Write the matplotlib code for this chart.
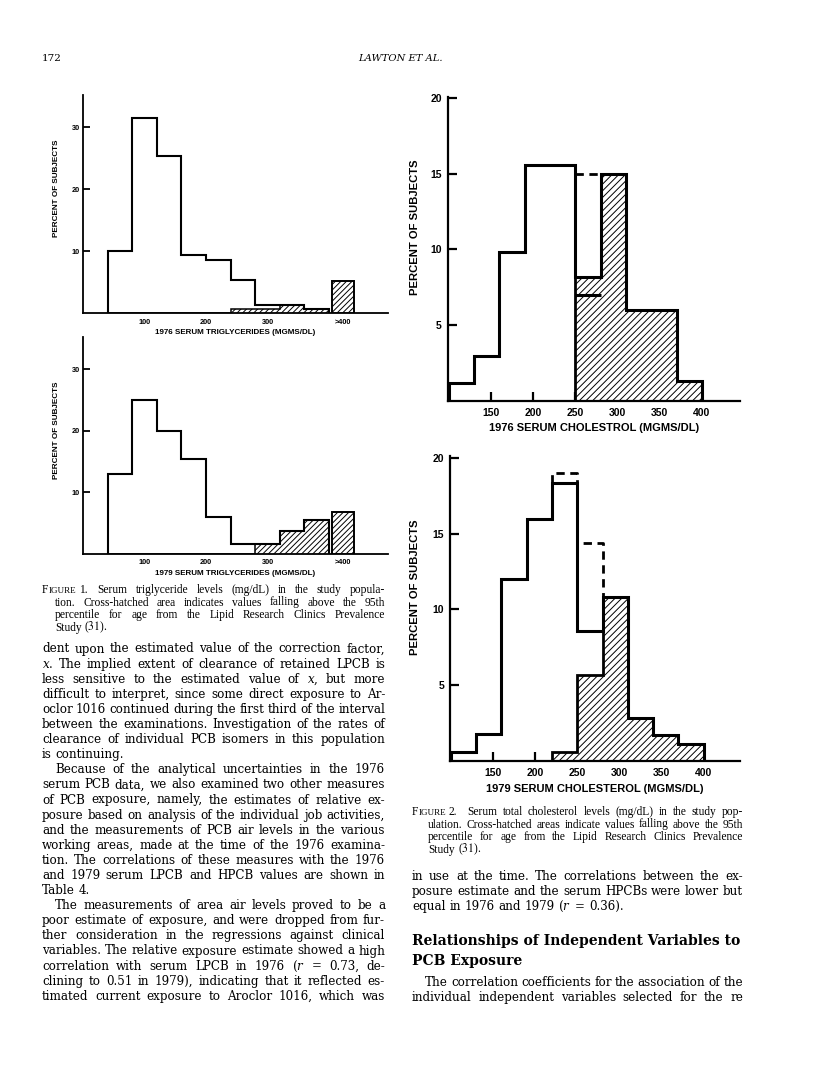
import matplotlib
matplotlib.use("Agg")
import matplotlib.pyplot as plt

# tamanho da página em pixels
W, H = 816, 1089

# ---------------- dados ----------------
# triglicerídeos: % de sujeitos por faixa de 40 mg/dL (40 a 400) + barra ">400"
bordas_tg = [40, 80, 120, 160, 200, 240, 280, 320, 360, 400]
tg_1976_total = [10, 31.5, 25.4, 9.35, 8.6, 5.3, 1.3, 1.3, 0.7]
tg_1976_hachura = [0, 0, 0, 0, 0, 0.7, 0.7, 1.3, 0.7]
tg_1976_acima400 = 5.2
tg_1979_total = [13, 25, 20, 15.4, 5.9, 1.5, 1.5, 3.7, 5.4]
tg_1979_hachura = [0, 0, 0, 0, 0, 0, 1.5, 3.7, 5.4]
tg_1979_acima400 = 6.8
faixa_acima400 = [405, 440]
ticks_tg = [100, 200, 300, 422.5]
rotulos_tg = ["100", "200", "300", ">400"]

# colesterol: % de sujeitos por faixa de 30 mg/dL (100 a 400)
bordas_col = [100, 130, 160, 190, 220, 250, 280, 310, 340, 370, 400]
col_1976_total = [1.2, 2.95, 9.8, 15.6, 15.6, 8.2, 15.0, 6.0, 6.0, 1.3]
col_1976_hachura = [0, 0, 0, 0, 0, 8.2, 15.0, 6.0, 6.0, 1.3]
col_1976_interna = 7.0           # linha grossa dentro da faixa 250-280
col_1976_tracejado = [15.0]      # faixa 250-280
col_1979_total = [0.55, 1.75, 12.0, 16.0, 18.35, 8.55, 10.85, 2.85, 1.7, 1.1]
col_1979_hachura = [0, 0, 0, 0, 0.55, 5.65, 10.85, 2.85, 1.7, 1.1]
col_1979_tracejado = [19.0, 14.4]  # faixas 220-250 e 250-280
ticks_col = [150, 200, 250, 300, 350, 400]

plt.rcParams["font.family"] = ["Liberation Sans", "DejaVu Sans"]
plt.rcParams["hatch.linewidth"] = 0.7

fig = plt.figure(figsize=(W / 100, H / 100), dpi=100)
rend = fig.canvas.get_renderer()


def eixo(x0, x1, y_topo, y_base):
    # cria um eixo a partir de coordenadas em pixels da página
    return fig.add_axes([x0 / W, 1 - y_base / H, (x1 - x0) / W, (y_base - y_topo) / H])


def arrumar(ax, tam_tick, tam_titulo, tam_ylabel, titulo, lw, pad_y, pad_x, comp,
            coord_x, coord_y):
    ax.spines["top"].set_visible(False)
    ax.spines["right"].set_visible(False)
    ax.spines["left"].set_linewidth(lw)
    ax.spines["bottom"].set_linewidth(lw)
    ax.set_axisbelow(True)
    ax.tick_params(axis="y", direction="in", length=comp, width=lw, labelsize=tam_tick, pad=pad_y)
    ax.tick_params(axis="x", direction="in", length=comp, width=lw, labelsize=tam_tick, pad=pad_x)
    for r in ax.get_xticklabels() + ax.get_yticklabels():
        r.set_fontweight("bold")
    ax.set_xlabel(titulo, fontsize=tam_titulo, fontweight="bold", va="top")
    ax.set_ylabel("PERCENT OF SUBJECTS", fontsize=tam_ylabel, fontweight="bold")
    ax.xaxis.set_label_coords(0.5, coord_x)
    ax.yaxis.set_label_coords(coord_y, 0.57)


def histograma(ax, bordas, total, hachura, lw, lw_h, hatch):
    ax.stairs(hachura, bordas, baseline=0, fill=True, facecolor="white",
              edgecolor="black", hatch=hatch, linewidth=lw_h, zorder=2)
    ax.stairs(total, bordas, baseline=0, color="black", linewidth=lw, zorder=3)


# ---------------- figura 1: triglicerídeos ----------------
for (topo, base), total, hach, acima, titulo in [
        ((95, 313), tg_1976_total, tg_1976_hachura, tg_1976_acima400,
         "1976 SERUM TRIGLYCERIDES (MGMS/DL)"),
        ((337, 553.7), tg_1979_total, tg_1979_hachura, tg_1979_acima400,
         "1979 SERUM TRIGLYCERIDES (MGMS/DL)")]:
    ax = eixo(83, 388, topo, base)
    histograma(ax, bordas_tg, total, hach, 1.5, 1.1, "//////")
    ax.bar(sum(faixa_acima400) / 2, acima, width=faixa_acima400[1] - faixa_acima400[0],
           facecolor="white", edgecolor="black", hatch="//////", linewidth=1.4, zorder=3)
    ax.set_xlim(0, 496)
    ax.set_ylim(0, 35.2)
    ax.set_yticks([10, 20, 30])
    ax.set_xticks(ticks_tg, rotulos_tg)
    arrumar(ax, 5.3, 5.75, 5.9, titulo, 1.3, 2.2, 4, 5, -0.073, -0.074)
    ax.tick_params(axis="x", length=0)

# ---------------- figura 2: colesterol ----------------
ax3 = eixo(447.7, 740, 96.7, 400.7)
histograma(ax3, bordas_col, col_1976_total, col_1976_hachura, 2.2, 2.0, "/////")
ax3.hlines(col_1976_interna, bordas_col[5], bordas_col[6], color="black", linewidth=2.2, zorder=4)
ax3.plot(bordas_col[5:7], col_1976_tracejado * 2, color="black", linewidth=2.0,
         linestyle=(0, (3, 2)), zorder=4)
ax3.set_xlim(99, 445)
ax3.set_ylim(0, 20.1)
ax3.set_yticks([5, 10, 15, 20])
ax3.set_xticks(ticks_col)
arrumar(ax3, 7.5, 8.05, 8.1, "1976 SERUM CHOLESTROL (MGMS/DL)", 1.6, 4.3, 5.5, 6.5, -0.075, -0.096)

ax4 = eixo(450, 740, 456, 760.7)
histograma(ax4, bordas_col, col_1979_total, col_1979_hachura, 2.2, 2.0, "/////")
trac_x = [bordas_col[4], bordas_col[4], bordas_col[5], bordas_col[5], bordas_col[6], bordas_col[6]]
trac_y = [col_1979_total[4], col_1979_tracejado[0], col_1979_tracejado[0],
          col_1979_tracejado[1], col_1979_tracejado[1], col_1979_total[6]]
ax4.plot(trac_x, trac_y, color="black", linewidth=2.0, linestyle=(0, (3, 2)), zorder=4)
ax4.set_xlim(99, 443)
ax4.set_ylim(0, 20.15)
ax4.set_yticks([5, 10, 15, 20])
ax4.set_xticks(ticks_col)
arrumar(ax4, 7.5, 8.05, 8.1, "1979 SERUM CHOLESTEROL (MGMS/DL)", 1.6, 4.3, 5.5, 6.5, -0.075, -0.105)


# ---------------- texto da página ----------------
CORPO = dict(family="DejaVu Serif", math_fontfamily="dejavuserif")
LEG = dict(family="Liberation Serif", math_fontfamily="stix")


def largura(s, **kw):
    t = fig.text(0, 0, s, **kw)
    w = t.get_window_extent(renderer=rend).width
    t.remove()
    return w


def escrever(x0, x1, y, texto, justificar=True, **kw):
    # escreve uma linha palavra por palavra, justificada entre x0 e x1
    palavras = texto.split()
    larg = [largura(p, **kw) for p in palavras]
    if justificar and len(palavras) > 1:
        esp = (x1 - x0 - sum(larg)) / (len(palavras) - 1)
    else:
        esp = largura("a a", **kw) - largura("aa", **kw)
    x = x0
    for p, w in zip(palavras, larg):
        fig.text(x / W, 1 - y / H, p, ha="left", va="baseline", **kw)
        x += w + esp


def tamanho_que_cabe(linhas, maximo, fonte, espaco_min):
    # maior corpo de letra em que as palavras de cada linha cabem na largura
    melhor = maximo
    for texto, disponivel in linhas:
        palavras = texto.split()
        w = sum(largura(p, fontsize=10, **fonte) for p in palavras)
        livre = disponivel - espaco_min * (len(palavras) - 1)
        melhor = min(melhor, 10 * livre / w)
    return melhor


def legenda(x0, x1, y, numero, resto, tam):
    # "FIGURE" em versalete
    kw = dict(fontsize=tam, **LEG)
    x = x0
    fig.text(x / W, 1 - y / H, "F", ha="left", va="baseline", **kw)
    x += largura("F", **kw)
    kw2 = dict(fontsize=tam * 0.78, **LEG)
    fig.text(x / W, 1 - y / H, "IGURE", ha="left", va="baseline", **kw2)
    x += largura("IGURE", **kw2) + largura("a a", **kw) - largura("aa", **kw)
    fig.text(x / W, 1 - y / H, numero, ha="left", va="baseline", **kw)
    x += largura(numero, **kw) + 10
    escrever(x, x1, y, resto, **kw)


# textos
leg1_primeira = "Serum triglyceride levels (mg/dL) in the study popula-"
leg1 = ["tion. Cross-hatched area indicates values falling above the 95th",
        "percentile for age from the Lipid Research Clinics Prevalence",
        "Study ($\\mathit{31}$)."]
leg2_primeira = "Serum total cholesterol levels (mg/dL) in the study pop-"
leg2 = ["ulation. Cross-hatched areas indicate values falling above the 95th",
        "percentile for age from the Lipid Research Clinics Prevalence",
        "Study ($\\mathit{31}$)."]

# coluna da esquerda: (texto, recuo, justificar)
coluna_esq = [
    ("dent upon the estimated value of the correction factor,", 0, True),
    ("$x$. The implied extent of clearance of retained LPCB is", 0, True),
    ("less sensitive to the estimated value of $x$, but more", 0, True),
    ("difficult to interpret, since some direct exposure to Ar-", 0, True),
    ("oclor 1016 continued during the first third of the interval", 0, True),
    ("between the examinations. Investigation of the rates of", 0, True),
    ("clearance of individual PCB isomers in this population", 0, True),
    ("is continuing.", 0, False),
    ("Because of the analytical uncertainties in the 1976", 13, True),
    ("serum PCB data, we also examined two other measures", 0, True),
    ("of PCB exposure, namely, the estimates of relative ex-", 0, True),
    ("posure based on analysis of the individual job activities,", 0, True),
    ("and the measurements of PCB air levels in the various", 0, True),
    ("working areas, made at the time of the 1976 examina-", 0, True),
    ("tion. The correlations of these measures with the 1976", 0, True),
    ("and 1979 serum LPCB and HPCB values are shown in", 0, True),
    ("Table 4.", 0, False),
    ("The measurements of area air levels proved to be a", 13, True),
    ("poor estimate of exposure, and were dropped from fur-", 0, True),
    ("ther consideration in the regressions against clinical", 0, True),
    ("variables. The relative exposure estimate showed a high", 0, True),
    ("correlation with serum LPCB in 1976 ($r$ = 0.73, de-", 0, True),
    ("clining to 0.51 in 1979), indicating that it reflected es-", 0, True),
    ("timated current exposure to Aroclor 1016, which was", 0, True),
]
coluna_dir = [
    ("in use at the time. The correlations between the ex-", 0, True),
    ("posure estimate and the serum HPCBs were lower but", 0, True),
    ("equal in 1976 and 1979 ($r$ = 0.36).", 0, False),
]
coluna_dir2 = [
    ("The correlation coefficients for the association of the", 13, True),
    ("individual independent variables selected for the re", 0, True),
]

# corpo de letra ajustado à largura das colunas
ESQ, DIR = (42, 385), (412, 743)
medir = [(t, ESQ[1] - ESQ[0] - r) for t, r, j in coluna_esq if j]
medir += [(t, DIR[1] - DIR[0] - r) for t, r, j in coluna_dir + coluna_dir2 if j]
tam_corpo = tamanho_que_cabe(medir, 8.6, CORPO, 3.0)
tam_leg = tamanho_que_cabe([(leg1[0], 330), (leg1[1], 330), (leg2[0], 315), (leg2[1], 315)],
                           8.3, LEG, 2.2)

# cabeçalho
fig.text(42 / W, 1 - 61 / H, "172", fontsize=7.5, ha="left", va="baseline", **CORPO)
fig.text(400 / W, 1 - 61 / H, "LAWTON ET AL.", style="italic",
         fontsize=7.2, ha="center", va="baseline", **CORPO)

# legendas
legenda(42, 385, 593, "1.", leg1_primeira, tam_leg)
for i, t in enumerate(leg1):
    escrever(55, 385, 605.5 + 12.5 * i, t, justificar=(i < 2), fontsize=tam_leg, **LEG)
legenda(412, 743, 815, "2.", leg2_primeira, tam_leg)
for i, t in enumerate(leg2):
    escrever(428, 743, 827.5 + 12.5 * i, t, justificar=(i < 2), fontsize=tam_leg, **LEG)

# colunas de texto
for i, (t, recuo, just) in enumerate(coluna_esq):
    escrever(ESQ[0] + recuo, ESQ[1], 652.5 + 15.1 * i, t, justificar=just,
             fontsize=tam_corpo, **CORPO)
for i, (t, recuo, just) in enumerate(coluna_dir):
    escrever(DIR[0] + recuo, DIR[1], 879.5 + 15.1 * i, t, justificar=just,
             fontsize=tam_corpo, **CORPO)

titulo1 = "Relationships of Independent Variables to"
tam_tit = 11 * 325 / largura(titulo1, fontsize=11, fontweight="bold", **CORPO)
fig.text(412 / W, 1 - 945 / H, titulo1,
         fontsize=tam_tit, fontweight="bold", ha="left", va="baseline", **CORPO)
fig.text(412 / W, 1 - 964.5 / H, "PCB Exposure",
         fontsize=tam_tit, fontweight="bold", ha="left", va="baseline", **CORPO)

for i, (t, recuo, just) in enumerate(coluna_dir2):
    escrever(DIR[0] + recuo, DIR[1], 986 + 14.6 * i, t, justificar=just,
             fontsize=tam_corpo, **CORPO)

plt.savefig("out.png", dpi=100)
